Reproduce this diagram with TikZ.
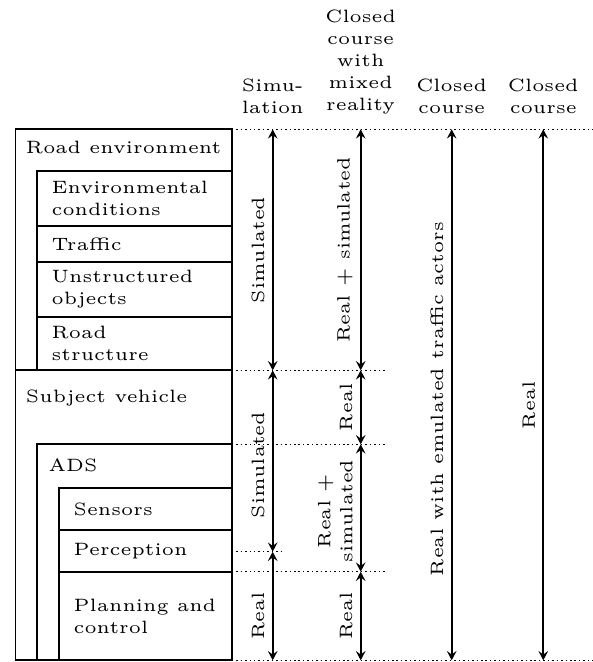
\documentclass[tikz,border=0pt]{standalone}
\usetikzlibrary{arrows.meta}

\tikzset{
  lvl/.style={line width=0.45pt, dash pattern=on 0.45pt off 0.85pt},
  dim/.style={<->, >={Stealth[length=2.7pt,width=2.8pt,inset=1pt]}},
  grp/.style={anchor=base west, inner sep=0pt},
  leaf/.style={anchor=west, align=left, inner sep=0pt},
  head/.style={anchor=south, align=center, inner sep=0pt},
  vtext/.style={sloped, above, align=center, inner sep=2.1pt}
}

\begin{document}
\begin{tikzpicture}[x=0.292pt,y=-0.292pt,line width=0.55pt,font=\fontsize{5.22}{6.4}\selectfont]
\useasboundingbox (0,0) rectangle (593,662);

% levels and columns
\coordinate (top) at (0,129.3);
\coordinate (subj) at (0,370.3);
\coordinate (ads) at (0,444.3);
\coordinate (perm) at (0,551.7);
\coordinate (plan) at (0,571.7);
\coordinate (bot) at (0,660.3);
\coordinate (sim) at (272.7,0);
\coordinate (mix) at (360.7,0);
\coordinate (emu) at (451.7,0);
\coordinate (real) at (543.3,0);

% road environment
\draw (15.5,129.3) rectangle (231.7,370.3);
\draw (37.3,171) rectangle (231.7,226);
\draw (37.3,226) rectangle (231.7,261.7);
\draw (37.3,261.7) rectangle (231.7,316.7);
\draw (37.3,316.7) rectangle (231.7,370.3);
\node[grp] (roadenv) at (25,153.3) {Road environment};
\node[leaf] (envcond) at (50.7,198.5) {Environmental\\conditions};
\node[leaf] (traffic) at (50.7,243.8) {Traffic};
\node[leaf] (unstruct) at (50.7,289.2) {Unstructured\\objects};
\node[leaf] (roadstr) at (50.7,343.5) {Road\\structure};

% subject vehicle
\draw (15.5,370.3) rectangle (231.7,660.3);
\draw (37.3,444.3) rectangle (231.7,660.3);
\draw (59.3,488.3) rectangle (231.7,530);
\draw (59.3,530) rectangle (231.7,571.7);
\draw (59.3,571.7) rectangle (231.7,660.3);
\node[grp] (subject) at (25,402.7) {Subject vehicle};
\node[grp] (adsname) at (47.7,471.7) {ADS};
\node[leaf] (sensors) at (72.7,509.2) {Sensors};
\node[leaf] (percept) at (72.7,550.9) {Perception};
\node[leaf] (planctl) at (72.7,616) {Planning and\\control};

% test setups
\node[head] (hsim) at (272.7,115) {Simu-\\lation};
\node[head] (hmix) at (360.7,115) {Closed\\course\\with\\mixed\\reality};
\node[head] (hemu) at (451.7,115) {Closed\\course};
\node[head] (hreal) at (543.3,115) {Closed\\course};

% dotted levels
\draw[lvl] (231.7,129.3) -- (593,129.3);
\draw[lvl] (231.7,370.3) -- (387,370.3);
\draw[lvl] (231.7,444.3) -- (387,444.3);
\draw[lvl] (231.7,551.7) -- (284,551.7);
\draw[lvl] (231.7,571.7) -- (387,571.7);
\draw[lvl] (231.7,660.3) -- (593,660.3);

% arrows
\draw[dim] (sim |- subj) -- node[vtext] {Simulated} (sim |- top);
\draw[dim] (sim |- perm) -- node[vtext, pos=.478] {Simulated} (sim |- subj);
\draw[dim] (sim |- bot) -- node[vtext, pos=.41] {Real} (sim |- perm);
\draw[dim] (mix |- subj) -- node[vtext] {Real + simulated} (mix |- top);
\draw[dim] (mix |- ads) -- node[vtext] {Real} (mix |- subj);
\draw[dim] (mix |- plan) -- node[vtext, pos=.476] {Real +\\simulated} (mix |- ads);
\draw[dim] (mix |- bot) -- node[vtext] {Real} (mix |- plan);
\draw[dim] (emu |- bot) -- node[vtext, pos=.492] {Real with emulated traffic actors} (emu |- top);
\draw[dim] (real |- bot) -- node[vtext, pos=.48] {Real} (real |- top);
\end{tikzpicture}
\end{document}
